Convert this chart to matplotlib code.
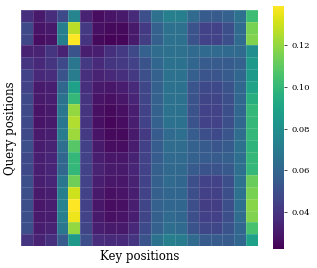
import numpy as np
import matplotlib.pyplot as plt

plt.rcParams['font.family'] = 'DejaVu Serif'

# attention weights, rows = query positions, cols = key positions
row00 = [0.038, 0.030, 0.037, 0.048, 0.075, 0.033, 0.026, 0.028, 0.030, 0.036, 0.050, 0.065, 0.072, 0.072, 0.062, 0.055, 0.055, 0.058, 0.065, 0.102]
row01 = [0.048, 0.028, 0.030, 0.072, 0.127, 0.042, 0.027, 0.025, 0.025, 0.030, 0.042, 0.058, 0.065, 0.065, 0.052, 0.045, 0.045, 0.050, 0.062, 0.115]
row02 = [0.047, 0.026, 0.028, 0.072, 0.139, 0.040, 0.025, 0.023, 0.024, 0.030, 0.043, 0.057, 0.065, 0.065, 0.052, 0.045, 0.045, 0.050, 0.062, 0.117]
row03 = [0.033, 0.033, 0.040, 0.033, 0.052, 0.032, 0.032, 0.038, 0.042, 0.048, 0.058, 0.063, 0.065, 0.065, 0.062, 0.062, 0.062, 0.062, 0.062, 0.080]
row04 = [0.040, 0.035, 0.040, 0.048, 0.068, 0.042, 0.036, 0.040, 0.042, 0.045, 0.052, 0.060, 0.066, 0.066, 0.060, 0.055, 0.055, 0.055, 0.058, 0.085]
row05 = [0.045, 0.035, 0.037, 0.052, 0.070, 0.038, 0.033, 0.035, 0.038, 0.042, 0.050, 0.058, 0.066, 0.066, 0.057, 0.053, 0.053, 0.055, 0.060, 0.085]
row06 = [0.045, 0.030, 0.032, 0.060, 0.088, 0.038, 0.030, 0.029, 0.031, 0.036, 0.047, 0.058, 0.066, 0.066, 0.053, 0.048, 0.048, 0.052, 0.060, 0.090]
row07 = [0.048, 0.030, 0.032, 0.066, 0.100, 0.040, 0.028, 0.027, 0.029, 0.034, 0.046, 0.058, 0.066, 0.066, 0.052, 0.046, 0.046, 0.050, 0.060, 0.096]
row08 = [0.048, 0.028, 0.030, 0.068, 0.120, 0.040, 0.027, 0.025, 0.027, 0.032, 0.045, 0.058, 0.066, 0.066, 0.052, 0.045, 0.045, 0.050, 0.060, 0.100]
row09 = [0.048, 0.028, 0.030, 0.068, 0.125, 0.040, 0.027, 0.024, 0.026, 0.032, 0.045, 0.058, 0.066, 0.066, 0.052, 0.045, 0.045, 0.050, 0.060, 0.100]
row10 = [0.048, 0.030, 0.032, 0.070, 0.122, 0.042, 0.028, 0.025, 0.025, 0.030, 0.042, 0.055, 0.062, 0.064, 0.056, 0.050, 0.048, 0.053, 0.063, 0.100]
row11 = [0.050, 0.031, 0.033, 0.064, 0.108, 0.044, 0.030, 0.026, 0.026, 0.031, 0.044, 0.056, 0.063, 0.063, 0.058, 0.055, 0.053, 0.055, 0.065, 0.098]
row12 = [0.048, 0.032, 0.034, 0.060, 0.100, 0.045, 0.032, 0.029, 0.029, 0.033, 0.045, 0.056, 0.062, 0.062, 0.058, 0.056, 0.055, 0.057, 0.064, 0.100]
row13 = [0.048, 0.032, 0.034, 0.060, 0.100, 0.045, 0.033, 0.030, 0.030, 0.034, 0.045, 0.057, 0.061, 0.061, 0.055, 0.052, 0.052, 0.054, 0.064, 0.100]
row14 = [0.050, 0.032, 0.034, 0.068, 0.113, 0.045, 0.032, 0.029, 0.029, 0.033, 0.045, 0.057, 0.062, 0.060, 0.050, 0.045, 0.045, 0.050, 0.065, 0.112]
row15 = [0.050, 0.030, 0.032, 0.072, 0.130, 0.045, 0.030, 0.027, 0.028, 0.032, 0.045, 0.057, 0.060, 0.060, 0.050, 0.044, 0.044, 0.050, 0.065, 0.115]
row16 = [0.050, 0.029, 0.031, 0.074, 0.139, 0.044, 0.029, 0.026, 0.027, 0.032, 0.046, 0.058, 0.060, 0.060, 0.050, 0.043, 0.043, 0.050, 0.064, 0.118]
row17 = [0.050, 0.030, 0.031, 0.072, 0.136, 0.045, 0.030, 0.027, 0.028, 0.032, 0.046, 0.057, 0.062, 0.060, 0.050, 0.044, 0.044, 0.050, 0.063, 0.117]
row18 = [0.050, 0.031, 0.033, 0.068, 0.120, 0.046, 0.032, 0.030, 0.030, 0.035, 0.048, 0.058, 0.064, 0.062, 0.052, 0.047, 0.047, 0.052, 0.060, 0.105]
row19 = [0.040, 0.033, 0.038, 0.055, 0.085, 0.050, 0.037, 0.036, 0.036, 0.040, 0.052, 0.066, 0.072, 0.070, 0.062, 0.055, 0.055, 0.055, 0.060, 0.088]

attn = np.array([row00, row01, row02, row03, row04, row05, row06, row07, row08, row09,
                 row10, row11, row12, row13, row14, row15, row16, row17, row18, row19])

cbar_ticks = [0.04, 0.06, 0.08, 0.10, 0.12]

fig = plt.figure(figsize=(3.17, 2.68), dpi=100)
ax = fig.add_axes([0.0662, 0.0821, 0.7476, 0.8806])
cax = fig.add_axes([0.861, 0.0709, 0.0347, 0.9067])

mesh = ax.pcolormesh(attn, cmap='viridis', vmin=0.022, vmax=0.139,
                     edgecolors=(1, 1, 1, 0.15), linewidth=0.4)
ax.set_xlim(0, attn.shape[1])
ax.set_ylim(attn.shape[0], 0)
ax.set_xticks([])
ax.set_yticks([])
for s in ax.spines.values():
    s.set_visible(False)
ax.set_xlabel('Key positions', fontsize=8.5, labelpad=3)
ax.set_ylabel('Query positions', fontsize=8.5, labelpad=3)

cb = fig.colorbar(mesh, cax=cax, ticks=cbar_ticks)
cb.outline.set_visible(False)
cb.ax.tick_params(labelsize=6, length=2, width=0.5)
cb.ax.set_yticklabels(['0.04', '0.06', '0.08', '0.10', '0.12'])

fig.savefig('out.png', dpi=100)
